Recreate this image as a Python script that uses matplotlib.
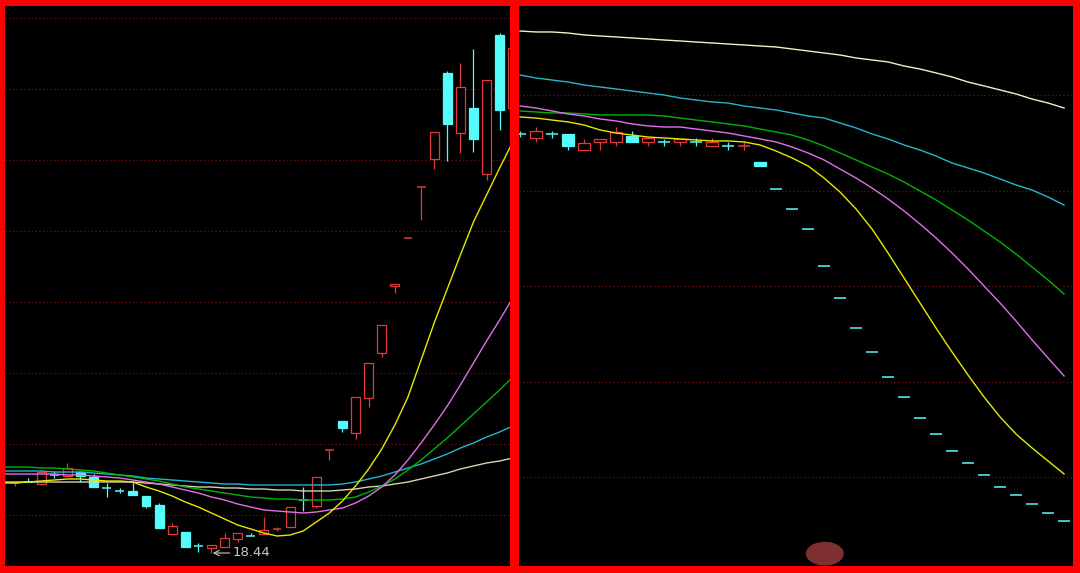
import numpy as np
import matplotlib
matplotlib.use("Agg")
import matplotlib.pyplot as plt
from matplotlib.patches import Ellipse

# ---- left panel: rally off the low ----
left_open = [21.92, 21.99, 21.89, 22.37, 22.29, 22.49, 22.24, 21.69, 21.57, 21.54,
             21.29, 20.84, 19.39, 19.49, 18.82, 18.69, 18.74, 19.14, 19.32, 19.39,
             19.62, 19.74, 21.12, 20.79, 23.59, 25.04, 24.44, 26.19, 28.44, 31.79,
             34.19, 36.74, 38.14, 42.44, 39.44, 40.69, 37.39, 44.34, 40.69]
left_high = [22.04, 22.19, 22.54, 22.54, 22.94, 22.54, 22.39, 21.94, 21.69, 21.99,
             21.29, 20.94, 19.94, 19.49, 18.94, 18.84, 19.44, 19.44, 19.44, 20.24,
             19.74, 20.74, 21.74, 22.24, 23.59, 25.04, 26.24, 27.94, 29.84, 31.89,
             34.19, 36.74, 39.49, 42.54, 42.94, 43.64, 42.09, 44.44, 43.84]
left_low = [21.79, 21.94, 21.84, 22.19, 22.29, 21.99, 21.74, 21.24, 21.44, 21.34,
            20.69, 19.69, 19.39, 18.74, 18.49, 18.44, 18.74, 18.99, 19.29, 19.39,
            19.54, 19.74, 20.54, 20.69, 23.09, 24.49, 24.14, 25.74, 28.24, 31.44,
            34.19, 35.09, 37.64, 38.04, 38.44, 38.49, 37.09, 39.59, 40.49]
left_close = [21.94, 21.94, 22.49, 22.34, 22.69, 22.29, 21.74, 21.67, 21.54, 21.34,
              20.79, 19.69, 19.79, 18.74, 18.79, 18.84, 19.19, 19.44, 19.29, 19.59,
              19.64, 20.74, 21.09, 22.24, 23.59, 24.69, 26.24, 27.94, 29.84, 31.89,
              34.19, 36.74, 39.49, 39.89, 41.74, 39.14, 42.09, 40.59, 43.69]

# moving averages start one bar earlier (bar -1 sits under the left border)
left_ma_yellow = [21.94, 21.94, 21.99, 22.04, 22.09, 22.14, 22.14, 22.09, 22.04, 22.04,
                  21.99, 21.74, 21.54, 21.29, 20.99, 20.74, 20.44, 20.14, 19.84, 19.64,
                  19.44, 19.29, 19.34, 19.54, 19.99, 20.44, 21.04, 21.79, 22.64, 23.64,
                  24.84, 26.24, 28.09, 29.94, 31.64, 33.34, 34.99, 36.34, 37.69, 38.99]
left_ma_violet = [22.39, 22.39, 22.39, 22.39, 22.39, 22.34, 22.34, 22.29, 22.24, 22.19,
                  22.09, 21.99, 21.89, 21.74, 21.59, 21.44, 21.24, 21.09, 20.89, 20.74,
                  20.59, 20.54, 20.49, 20.44, 20.49, 20.59, 20.69, 20.94, 21.29, 21.74,
                  22.34, 23.09, 23.94, 24.84, 25.79, 26.84, 27.94, 29.04, 30.09, 31.19]
left_ma_green = [22.74, 22.74, 22.74, 22.69, 22.69, 22.64, 22.59, 22.54, 22.44, 22.34,
                 22.24, 22.14, 22.04, 21.89, 21.74, 21.64, 21.54, 21.44, 21.34, 21.24,
                 21.19, 21.14, 21.14, 21.09, 21.09, 21.09, 21.14, 21.24, 21.49, 21.79,
                 22.14, 22.59, 23.09, 23.64, 24.19, 24.79, 25.39, 25.99, 26.59, 27.24]
left_ma_teal = [22.54, 22.54, 22.54, 22.54, 22.49, 22.49, 22.49, 22.44, 22.39, 22.34,
                22.29, 22.19, 22.14, 22.09, 22.04, 21.99, 21.94, 21.89, 21.89, 21.84,
                21.84, 21.84, 21.84, 21.84, 21.84, 21.84, 21.89, 21.99, 22.14, 22.29,
                22.49, 22.69, 22.89, 23.14, 23.39, 23.69, 23.94, 24.24, 24.49, 24.79]
left_ma_beige = [21.99, 21.99, 21.99, 21.99, 21.99, 21.99, 21.99, 21.99, 21.99, 21.99,
                 21.99, 21.94, 21.89, 21.84, 21.79, 21.74, 21.74, 21.69, 21.69, 21.64,
                 21.64, 21.59, 21.59, 21.54, 21.54, 21.54, 21.59, 21.64, 21.74, 21.79,
                 21.89, 21.99, 22.14, 22.29, 22.44, 22.64, 22.79, 22.94, 23.04, 23.19]

# ---- right panel: flat top, then a run of one-price limit downs ----
right_open = [46.02, 45.55, 46.02, 45.97, 44.29, 45.13, 45.13, 45.76, 45.13, 45.18,
              45.13, 45.18, 44.71, 44.76, 44.66, 43.04, 40.21, 38.12, 36.02, 32.15,
              28.80, 25.65, 23.14, 20.52, 18.43, 16.23, 14.55, 12.77, 11.52, 10.26,
              9.01, 8.17, 7.23, 6.28, 5.45]
right_high = [46.28, 46.70, 46.28, 45.97, 45.45, 45.45, 46.70, 46.28, 45.55, 45.45,
              45.45, 45.55, 45.55, 45.13, 45.13, 43.04, 40.21, 38.12, 36.02, 32.15,
              28.80, 25.65, 23.14, 20.52, 18.43, 16.23, 14.55, 12.77, 11.52, 10.26,
              9.01, 8.17, 7.23, 6.28, 5.45]
right_low = [45.65, 45.13, 45.55, 44.29, 44.29, 44.29, 44.71, 45.13, 44.71, 44.71,
             44.71, 44.71, 44.71, 44.29, 44.29, 42.62, 40.21, 38.12, 36.02, 32.15,
             28.80, 25.65, 23.14, 20.52, 18.43, 16.23, 14.55, 12.77, 11.52, 10.26,
             9.01, 8.17, 7.23, 6.28, 5.45]
right_close = [45.97, 46.28, 45.97, 44.71, 45.03, 45.45, 46.18, 45.13, 45.55, 45.13,
               45.45, 45.13, 45.13, 44.71, 44.71, 42.62, 40.21, 38.12, 36.02, 32.15,
               28.80, 25.65, 23.14, 20.52, 18.43, 16.23, 14.55, 12.77, 11.52, 10.26,
               9.01, 8.17, 7.23, 6.28, 5.45]

right_ma_yellow = [47.75, 47.64, 47.43, 47.23, 46.91, 46.39, 46.07, 45.86, 45.65, 45.55,
                   45.45, 45.34, 45.24, 45.24, 45.13, 44.82, 44.19, 43.46, 42.62, 41.36,
                   39.89, 38.12, 36.02, 33.51, 30.89, 28.27, 25.65, 23.14, 20.73, 18.43,
                   16.34, 14.55, 13.09, 11.73, 10.37]
right_ma_violet = [48.90, 48.69, 48.38, 48.06, 47.85, 47.54, 47.33, 47.02, 46.81, 46.70,
                   46.70, 46.49, 46.28, 46.07, 45.76, 45.45, 45.13, 44.61, 43.98, 43.25,
                   42.30, 41.36, 40.31, 39.16, 37.91, 36.54, 35.08, 33.51, 31.83, 30.05,
                   28.27, 26.39, 24.40, 22.51, 20.63]
right_ma_green = [48.38, 48.27, 48.17, 48.17, 48.06, 47.96, 47.96, 47.96, 47.96, 47.85,
                  47.64, 47.43, 47.23, 47.02, 46.81, 46.49, 46.18, 45.86, 45.34, 44.71,
                  43.98, 43.25, 42.51, 41.78, 40.94, 40.00, 39.06, 38.01, 36.96, 35.81,
                  34.66, 33.40, 32.04, 30.68, 29.21]
right_ma_teal = [52.15, 51.83, 51.62, 51.41, 51.10, 50.89, 50.68, 50.47, 50.26, 50.05,
                 49.74, 49.53, 49.32, 49.21, 48.90, 48.69, 48.48, 48.17, 47.85, 47.64,
                 47.12, 46.60, 45.97, 45.45, 44.82, 44.29, 43.66, 42.93, 42.41, 41.88,
                 41.26, 40.63, 40.10, 39.37, 38.53]
right_ma_beige = [56.75, 56.65, 56.65, 56.54, 56.34, 56.23, 56.13, 56.02, 55.92, 55.81,
                  55.71, 55.60, 55.50, 55.39, 55.29, 55.18, 55.08, 54.87, 54.66, 54.45,
                  54.24, 53.93, 53.72, 53.51, 53.09, 52.77, 52.36, 51.94, 51.41, 51.00,
                  50.58, 50.16, 49.63, 49.21, 48.69]

RED = '#e03a3a'
CYAN = '#54fcfc'
GRID = '#7a0c0c'


def draw_candles(ax, o, h, l, c, width):
    o, h, l, c = map(np.asarray, (o, h, l, c))
    x = np.arange(len(o))
    prev = np.r_[c[0], c[:-1]]
    # unchanged open/close takes its colour from the previous close
    up = (c > o) | ((c == o) & (c >= prev))
    col = np.where(up, RED, CYAN)
    top = np.maximum(o, c)
    bot = np.minimum(o, c)
    ax.vlines(x, top, h, colors=col, lw=0.9, zorder=2)
    ax.vlines(x, l, bot, colors=col, lw=0.9, zorder=2)
    flat = (top - bot) < 0.08
    b = ~flat
    ax.bar(x[b], (top - bot)[b], width, bottom=bot[b],
           color=np.where(up, 'black', CYAN)[b], edgecolor=col[b], lw=0.9, zorder=2)
    ax.hlines(((o + c) / 2)[flat], x[flat] - width / 2, x[flat] + width / 2,
              colors=col[flat], lw=1.1, zorder=2)


def style(ax, grid_levels):
    ax.set_facecolor('black')
    for s in ax.spines.values():
        s.set_visible(False)
    ax.set_xticks([])
    ax.set_yticks(grid_levels)
    ax.tick_params(left=False, labelleft=False)
    ax.grid(axis='y', color=GRID, linestyle=(0, (1, 2)), lw=0.9, zorder=0)


W, H = 1080, 573
fig = plt.figure(figsize=(W / 100, H / 100), dpi=100, facecolor='#ff0000')
ax_l = fig.add_axes([5 / W, 7 / H, 505 / W, 560 / H])
ax_r = fig.add_axes([519 / W, 7 / H, 554 / W, 560 / H])

style(ax_l, np.arange(20.34, 46, 3.55))
style(ax_r, [10, 20, 30, 40, 50])

draw_candles(ax_l, left_open, left_high, left_low, left_close, 0.68)
draw_candles(ax_r, right_open, right_high, right_low, right_close, 0.74)

xl = np.arange(len(left_ma_yellow)) - 1
for ys, cl in zip([left_ma_beige, left_ma_teal, left_ma_green, left_ma_violet, left_ma_yellow],
                  ['#d4d4b4', '#28b4d0', '#00b400', '#e070e8', '#e8e800']):
    ax_l.plot(xl, ys, color=cl, lw=1.0, zorder=3)
xr = np.arange(len(right_ma_yellow))
for ys, cl in zip([right_ma_beige, right_ma_teal, right_ma_green, right_ma_violet, right_ma_yellow],
                  ['#f0f0c8', '#28b4d0', '#00b400', '#e070e8', '#e8e800']):
    ax_r.plot(xr, ys, color=cl, lw=1.0, zorder=3)

ax_l.set_xlim(-0.763, 37.79)
ax_l.set_ylim(17.79, 45.79)
ax_r.set_xlim(-0.0625, 34.56)
ax_r.set_ylim(0.73, 59.37)

# lowest low marker
lo_i = int(np.argmin(left_low))
lo = left_low[lo_i]
ax_l.annotate(f"{lo:.2f}", xy=(lo_i + 0.1, lo), xytext=(lo_i + 1.6, lo),
              color='#c8c8c8', fontsize=9.5, va='center', ha='left',
              arrowprops=dict(arrowstyle='->', color='#c8c8c8', lw=0.8,
                              shrinkA=0, shrinkB=0))

# smudged marker at the bottom of the right panel
ax_r.add_patch(Ellipse((0.552, 0.022), 0.066, 0.04, transform=ax_r.transAxes,
                       color='#7e3030', zorder=4))

fig.savefig('out.png', dpi=100, facecolor=fig.get_facecolor())
